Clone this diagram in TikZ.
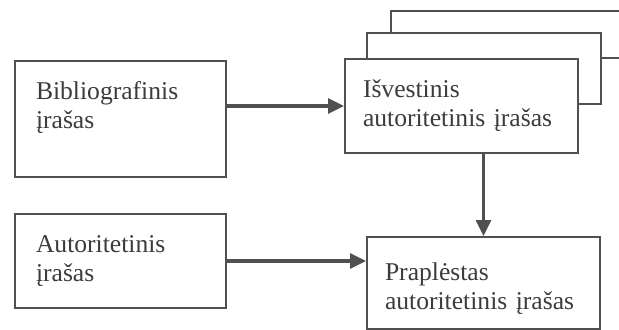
\documentclass[tikz,border=0pt]{standalone}
\usepackage{fontspec}
\setmainfont{Liberation Serif}
\definecolor{inkgray}{RGB}{60, 60, 60}
\definecolor{linegray}{RGB}{80, 80, 80}
\usetikzlibrary{arrows.meta,positioning}

\begin{document}
\begin{tikzpicture}[node distance=0.8cm]
  \tikzstyle{box} = [draw=linegray, line width=1pt, fill=white, rectangle, align=left, inner xsep=10.5pt, inner ysep=0pt, text=inkgray, font=\fontsize{12.8}{14.5}\selectfont]
  \tikzstyle{copy} = [draw=linegray, line width=1pt, fill=white, rectangle, inner sep=0pt]
  \tikzstyle{line} = [draw=linegray, line width=1.6pt, -{Triangle[length=8pt, width=7.5pt]}]

  \clip (0,0) rectangle (309.5pt,-164.5pt);

  \node [box, text width=84.5pt, minimum height=58pt] (bib) at (60.25pt,-59.5pt) {Bibliografinis\\ įrašas\\ \mbox{}};
  \node [box, text width=84.5pt, minimum height=47pt, below=17.5pt of bib] (aut) {Autoritetinis\\ įrašas};

  % stacked copies behind the derived record
  \node [copy, minimum width=125.5pt, minimum height=23.5pt, right=81.5pt of bib.north east, anchor=north west, yshift=25pt] (back) {};
  \node [copy, minimum width=117pt, minimum height=35.5pt, below=11pt of back.north west, anchor=north west, xshift=-12pt] (mid) {};
  \node [box, text width=98.5pt, inner xsep=9pt, minimum height=47pt, below=13pt of mid.north west, anchor=north west, xshift=-11pt] (isv) {Išvestinis\\ autoritetinis įrašas};
  \node [box, text width=98.5pt, inner xsep=9pt, minimum height=46pt, below=41pt of isv.south west, anchor=north west, xshift=11pt] (pra) {\mbox{}\\ Praplėstas\\ autoritetinis įrašas};

  \path [line] (bib.east |- isv.west) -- (isv.west);
  \path [line] (aut.east) -- (aut.east -| pra.west);
  \path [line] (pra.north |- isv.south) -- (pra.north);
\end{tikzpicture}
\end{document}
